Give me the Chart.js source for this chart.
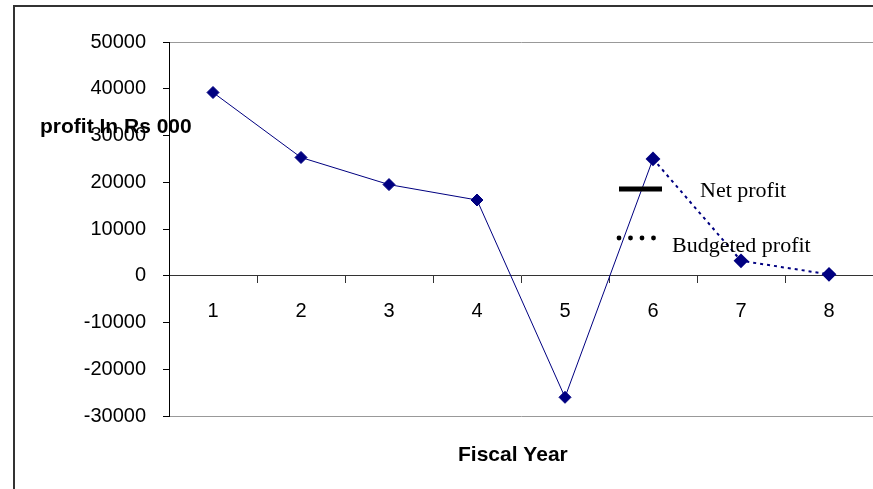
<!DOCTYPE html>
<html>
<head>
<meta charset="utf-8">
<script src="https://cdn.jsdelivr.net/npm/chart.js@4.4.0/dist/chart.umd.min.js"></script>
<style>
  html, body { margin: 0; padding: 0; background: #fff; }
  #wrap { width: 873px; height: 489px; }
</style>
</head>
<body>
<div id="wrap"><canvas id="profit-chart" width="873" height="489"></canvas></div>
<script>
const years = ['1', '2', '3', '4', '5', '6', '7', '8'];
const netProfit = [39200, 25300, 19500, 16200, -26000, 25000, null, null];
const budgetedProfit = [null, null, null, null, null, 25000, 3200, 300];
const yTicks = { min: -30000, max: 50000, step: 10000 };

const navy = '#000080';

// frame, axis titles and the little legend box inside the plot
const extras = {
    id: 'extras',
    beforeDraw(chart) {
        const c = chart.ctx;
        c.save();
        c.fillStyle = '#fff';
        c.fillRect(0, 0, chart.width, chart.height);
        c.strokeStyle = '#333';
        c.lineWidth = 2;
        c.beginPath();
        c.moveTo(14, chart.height);
        c.lineTo(14, 6);
        c.lineTo(chart.width, 6);
        c.stroke();
        c.restore();
    },
    afterDraw(chart) {
        const c = chart.ctx;
        c.save();
        c.fillStyle = '#000';
        c.font = 'bold 21px "Liberation Sans", Arial, sans-serif';
        c.textBaseline = 'alphabetic';
        c.textAlign = 'left';
        c.fillText('profit In Rs 000', 40, 133);
        c.fillText('Fiscal Year', 458, 461);

        // legend
        c.strokeStyle = '#000';
        c.lineWidth = 5;
        c.beginPath();
        c.moveTo(619, 189);
        c.lineTo(662, 189);
        c.stroke();
        for (let i = 0; i < 4; i++) {
            c.beginPath();
            c.arc(619 + i * 11.5, 238, 2.4, 0, Math.PI * 2);
            c.fill();
        }
        c.font = '22px "Liberation Serif", "Times New Roman", serif';
        c.fillText('Net profit', 700, 197);
        c.fillText('Budgeted profit', 672, 252);
        c.restore();
    }
};

const ctx = document.getElementById('profit-chart').getContext('2d');
const chart = new Chart(ctx, {
    type: 'line',
    data: {
        labels: years,
        datasets: [{
            label: 'Net profit',
            data: netProfit,
            borderColor: navy,
            backgroundColor: navy,
            borderWidth: 1,
            pointStyle: 'rectRot',
            pointRadius: 6,
            tension: 0
        }, {
            label: 'Budgeted profit',
            data: budgetedProfit,
            borderColor: navy,
            backgroundColor: navy,
            borderWidth: 2,
            borderDash: [3, 4],
            pointStyle: 'rectRot',
            pointRadius: 6,
            tension: 0
        }]
    },
    options: {
        responsive: false,
        animation: false,
        layout: { autoPadding: false, padding: { left: 0, top: 42, right: 0, bottom: 73 } },
        plugins: {
            legend: { display: false },
            tooltip: { enabled: false }
        },
        scales: {
            x: {
                position: { y: 0 },
                offset: true,
                afterFit(scale) {
                    scale.paddingLeft = 0;
                    scale.paddingRight = 0;
                },
                grid: {
                    offset: true,
                    drawOnChartArea: false,
                    tickLength: 7,
                    tickColor: '#333'
                },
                border: { display: true, color: '#333', width: 1 },
                ticks: {
                    color: '#000',
                    padding: 17,
                    maxRotation: 0,
                    font: { family: '"Liberation Sans", Arial, sans-serif', size: 20 }
                }
            },
            y: {
                min: yTicks.min,
                max: yTicks.max,
                afterFit(scale) { scale.width = 169; },
                grid: {
                    color: (c) => (c.tick && (c.tick.value === yTicks.max || c.tick.value === yTicks.min)) ? '#999' : 'rgba(0,0,0,0)',
                    tickColor: '#000',
                    tickLength: 6
                },
                border: { display: true, color: '#000', width: 1 },
                ticks: {
                    stepSize: yTicks.step,
                    color: '#000',
                    padding: 17,
                    callback: (v) => String(v),
                    font: { family: '"Liberation Sans", Arial, sans-serif', size: 20 }
                }
            }
        }
    },
    plugins: [extras]
});
</script>
</body>
</html>
